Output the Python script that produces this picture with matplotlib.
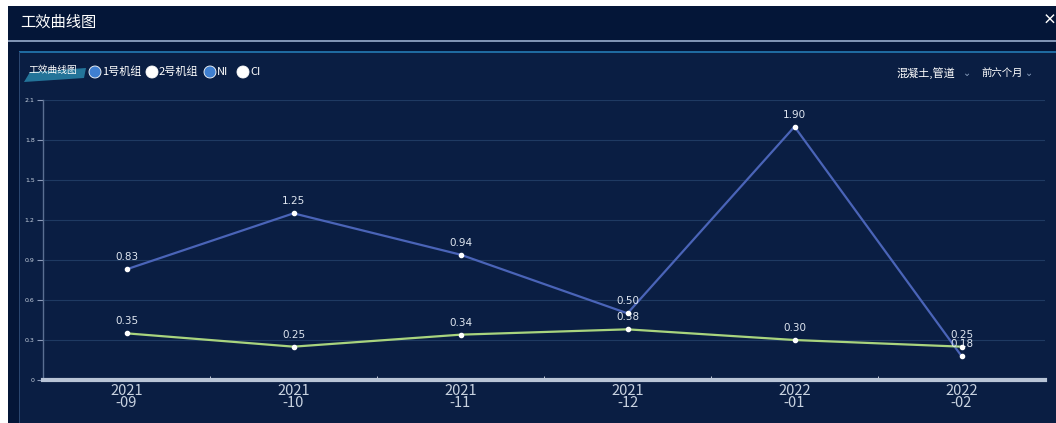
import matplotlib
matplotlib.use('Agg')
import matplotlib.pyplot as plt
from matplotlib.patches import Rectangle, Polygon, Ellipse
import numpy as np

plt.rcParams['font.family'] = ['Noto Sans CJK SC', 'DejaVu Sans']

# data
months = ['2021\n-09', '2021\n-10', '2021\n-11', '2021\n-12', '2022\n-01', '2022\n-02']
ni_values = [0.83, 1.25, 0.94, 0.50, 1.90, 0.18]
ci_values = [0.35, 0.25, 0.34, 0.38, 0.30, 0.25]
y_ticks = [0, 0.3, 0.6, 0.9, 1.2, 1.5, 1.8, 2.1]
legend_items = ['1号机组', '2号机组', 'NI', 'CI']
legend_colors = ['#3f7fd0', '#ffffff', '#3f7fd0', '#ffffff']

W, H = 1056, 423
fig = plt.figure(figsize=(W / 100, H / 100), dpi=100, facecolor='white')

def fx(px):
    return px / W

def fy(py):
    return 1 - py / H

# outer dark panel
fig.patches.append(Rectangle((fx(8), 0), 1 - fx(8), fy(6), transform=fig.transFigure,
                             facecolor='#041638', edgecolor='none', zorder=0))
# title bar separator
fig.patches.append(Rectangle((fx(8), fy(42)), 1 - fx(8), 1.6 / H, transform=fig.transFigure,
                             facecolor='#7f93b3', edgecolor='none', zorder=1))
# inner panel
fig.patches.append(Rectangle((fx(19), 0), 1 - fx(19), fy(52), transform=fig.transFigure,
                             facecolor='#0a1e43', edgecolor='none', zorder=1))
fig.patches.append(Rectangle((fx(19), fy(53)), 1 - fx(19), 1.5 / H, transform=fig.transFigure,
                             facecolor='#1f6aa0', edgecolor='none', zorder=2))
fig.patches.append(Rectangle((fx(19), 0), 1.2 / W, fy(52), transform=fig.transFigure,
                             facecolor='#2a4670', edgecolor='none', zorder=2))

fig.text(fx(20), fy(22), '工效曲线图', color='white', fontsize=11, va='center', ha='left')
fig.text(fx(1043), fy(21), '×', color='white', fontsize=10, va='center', ha='left',
         fontweight='bold')

# legend tab
tab = Polygon([(fx(24), fy(82)), (fx(84), fy(78)), (fx(86), fy(68)), (fx(30), fy(72))],
              closed=True, transform=fig.transFigure, facecolor='#2a8ab0', edgecolor='none',
              alpha=0.8, zorder=2)
fig.patches.append(tab)
fig.text(fx(28), fy(70), '工效曲线图', color='white', fontsize=7, va='center', ha='left', zorder=3)

lx = [95, 152, 210, 243]
for x, lab, col in zip(lx, legend_items, legend_colors):
    fig.patches.append(Ellipse((fx(x), fy(72)), 12 / W, 12 / H, transform=fig.transFigure,
                               facecolor=col, edgecolor='white', linewidth=0.6, zorder=3))
    fig.text(fx(x + 7), fy(72), lab, color='white', fontsize=8, va='center', ha='left', zorder=3)

fig.text(fx(896), fy(73), '混凝土,管道', color='white', fontsize=8, va='center', ha='left')
fig.text(fx(963), fy(73), '⌄', color='#8aa0c0', fontsize=7, va='center', ha='left')
fig.text(fx(981), fy(73), '前六个月', color='white', fontsize=7.5, va='center', ha='left')
fig.text(fx(1025), fy(73), '⌄', color='#8aa0c0', fontsize=7, va='center', ha='left')

# main axes
ax = fig.add_axes([fx(43), fy(380), fx(1045) - fx(43), (380 - 100) / H])
ax.set_zorder(5)
ax.set_facecolor('none')
x = np.arange(len(months))
ax.set_xlim(-0.5, len(months) - 0.5)
ax.set_ylim(0, 2.1)

ax.plot(x, ni_values, color='#4a64b8', linewidth=1.6, zorder=3)
ax.plot(x, ci_values, color='#a9d47e', linewidth=1.6, zorder=3)
ax.scatter(x, ni_values, s=9, color='white', zorder=4)
ax.scatter(x, ci_values, s=9, color='white', zorder=4)

for xi, v in zip(x, ni_values):
    ax.annotate(f'{v:.2f}', (xi, v), xytext=(0, 5), textcoords='offset points',
                ha='center', va='bottom', color='#dfe6f0', fontsize=7.5, family='DejaVu Sans')
for xi, v in zip(x, ci_values):
    ax.annotate(f'{v:.2f}', (xi, v), xytext=(0, 5), textcoords='offset points',
                ha='center', va='bottom', color='#dfe6f0', fontsize=7.5, family='DejaVu Sans')

ax.set_yticks(y_ticks)
ax.set_yticklabels(['0', '0.3', '0.6', '0.9', '1.2', '1.5', '1.8', '2.1'],
                   fontsize=4.5, color='#c8d2e0', family='DejaVu Sans')
ax.set_xticks(x)
ax.set_xticklabels(months, fontsize=10.5, color='#c8d2e0', linespacing=0.8)
ax.tick_params(axis='x', length=0, pad=3)
ax.tick_params(axis='y', length=4, color='#8a9ab8', width=0.8, pad=2)
ax.set_xticks(np.arange(0.5, len(months) - 0.5, 1), minor=True)
ax.tick_params(axis='x', which='minor', length=3, direction='in', color='#dfe4ee')

ax.grid(axis='y', color='#1f3a62', linewidth=0.8)
for s in ['top', 'right']:
    ax.spines[s].set_visible(False)
ax.spines['left'].set_color('#5a6f92')
ax.spines['left'].set_linewidth(1.0)
ax.spines['bottom'].set_color('#b8c4d6')
ax.spines['bottom'].set_linewidth(3.0)

fig.savefig('out.png', dpi=100, facecolor='white')
